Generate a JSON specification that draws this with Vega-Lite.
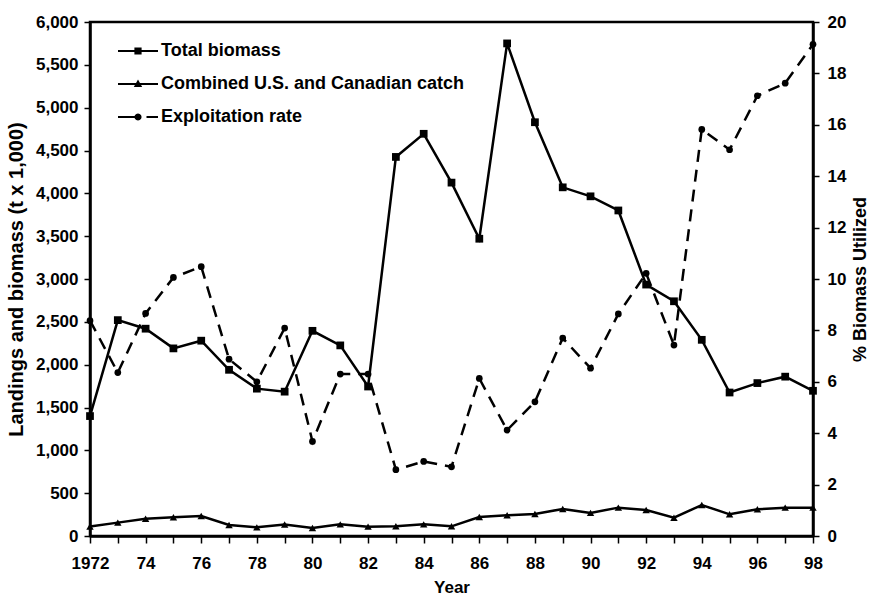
{
  "$schema": "https://vega.github.io/schema/vega-lite/v6.json",
  "width": 723,
  "height": 514,
  "autosize": {"type": "none"},
  "padding": {"left": 90, "top": 22, "right": 58, "bottom": 61},
  "background": "white",
  "config": {
    "view": {"stroke": "black", "strokeWidth": 2.5},
    "font": "Liberation Sans",
    "axis": {
      "labelFont": "Liberation Sans", "labelFontWeight": "bold", "labelFontSize": 17, "labelColor": "black",
      "titleFont": "Liberation Sans", "titleFontWeight": "bold", "titleFontSize": 17, "titleColor": "black",
      "domainColor": "black", "domainWidth": 2.5, "tickColor": "black", "tickWidth": 1.5, "grid": false
    }
  },
  "data": {
    "values": [
      {"year": 1972, "biomass": 1400, "catch": 110, "rate": 8.38},
      {"year": 1973, "biomass": 2520, "catch": 156, "rate": 6.36},
      {"year": 1974, "biomass": 2420, "catch": 202, "rate": 8.66},
      {"year": 1975, "biomass": 2190, "catch": 218, "rate": 10.06},
      {"year": 1976, "biomass": 2280, "catch": 234, "rate": 10.48},
      {"year": 1977, "biomass": 1940, "catch": 129, "rate": 6.88},
      {"year": 1978, "biomass": 1720, "catch": 101, "rate": 6.0},
      {"year": 1979, "biomass": 1685, "catch": 135, "rate": 8.09},
      {"year": 1980, "biomass": 2395, "catch": 94, "rate": 3.68},
      {"year": 1981, "biomass": 2225, "catch": 136, "rate": 6.3},
      {"year": 1982, "biomass": 1745, "catch": 109, "rate": 6.3},
      {"year": 1983, "biomass": 4425, "catch": 113, "rate": 2.58},
      {"year": 1984, "biomass": 4695, "catch": 136, "rate": 2.9},
      {"year": 1985, "biomass": 4125, "catch": 113, "rate": 2.69},
      {"year": 1986, "biomass": 3470, "catch": 222, "rate": 6.13},
      {"year": 1987, "biomass": 5750, "catch": 242, "rate": 4.12},
      {"year": 1988, "biomass": 4830, "catch": 257, "rate": 5.22},
      {"year": 1989, "biomass": 4070, "catch": 316, "rate": 7.7},
      {"year": 1990, "biomass": 3965, "catch": 270, "rate": 6.53},
      {"year": 1991, "biomass": 3800, "catch": 331, "rate": 8.64},
      {"year": 1992, "biomass": 2935, "catch": 304, "rate": 10.22},
      {"year": 1993, "biomass": 2740, "catch": 214, "rate": 7.43},
      {"year": 1994, "biomass": 2290, "catch": 362, "rate": 15.82},
      {"year": 1995, "biomass": 1675, "catch": 253, "rate": 15.03},
      {"year": 1996, "biomass": 1785, "catch": 312, "rate": 17.13},
      {"year": 1997, "biomass": 1860, "catch": 331, "rate": 17.62},
      {"year": 1998, "biomass": 1695, "catch": 331, "rate": 19.13}
    ]
  },
  "encoding": {
    "x": {
      "field": "year", "type": "quantitative",
      "scale": {"domain": [1972, 1998], "nice": false, "zero": false},
      "axis": {
        "title": "Year",
        "values": [1972,1973,1974,1975,1976,1977,1978,1979,1980,1981,1982,1983,1984,1985,1986,1987,1988,1989,1990,1991,1992,1993,1994,1995,1996,1997,1998],
        "labelExpr": "datum.value % 2 == 0 ? (datum.value == 1972 ? '1972' : substring(toString(datum.value), 2, 4)) : ''",
        "tickSize": 7, "labelPadding": 12, "titlePadding": 8, "labelFlush": false, "labelOverlap": false
      }
    }
  },
  "layer": [
    {
      "encoding": {
        "y": {
          "field": "biomass", "type": "quantitative",
          "scale": {"domain": [0, 6000], "nice": false},
          "axis": {
            "title": "Landings and biomass (t x 1,000)", "titleFontSize": 20,
            "values": [0,500,1000,1500,2000,2500,3000,3500,4000,4500,5000,5500,6000],
            "labelExpr": "format(datum.value, ',.0f')", "tickSize": 6, "labelPadding": 6, "titlePadding": 9
          }
        }
      },
      "layer": [
        {"mark": {"type": "line", "color": "black", "strokeWidth": 2.5}, "encoding": {}},
        {"mark": {"type": "point", "shape": "square", "filled": true, "color": "black", "opacity": 1, "size": 60}, "encoding": {}},
        {"mark": {"type": "line", "color": "black", "strokeWidth": 2.5}, "encoding": {"y": {"field": "catch", "type": "quantitative"}}},
        {"mark": {"type": "point", "shape": "triangle-up", "filled": true, "color": "black", "opacity": 1, "size": 55}, "encoding": {"y": {"field": "catch", "type": "quantitative"}}},
        {
          "transform": [{"filter": "datum.year < 0"}],
          "mark": {"type": "point", "filled": true, "color": "black", "opacity": 1},
          "encoding": {
            "shape": {
              "datum": "Total biomass",
              "scale": {
                "domain": ["Total biomass", "Combined U.S. and Canadian catch", "Exploitation rate"],
                "range": [
                  "M-2,-0.1H2V0.1H-2ZM-0.36,-0.36H0.36V0.36H-0.36Z",
                  "M-2,-0.1H2V0.1H-2ZM0,-0.45L0.42,0.3H-0.42Z",
                  "M-2,-0.1H0.3V0.1H-2ZM0.85,-0.1H2V0.1H0.85ZM0.36,0L0.312,0.18L0.18,0.312L0,0.36L-0.18,0.312L-0.312,0.18L-0.36,0L-0.312,-0.18L-0.18,-0.312L0,-0.36L0.18,-0.312L0.312,-0.18Z"
                ]
              },
              "legend": {
                "title": null, "orient": "none", "legendX": 27, "legendY": 18, "padding": 0,
                "symbolSize": 400, "symbolFillColor": "black", "symbolOpacity": 1,
                "symbolOffset": 10, "labelOffset": 12, "rowPadding": 13, "labelLimit": 500,
                "labelFont": "Liberation Sans", "labelFontWeight": "bold", "labelFontSize": 18, "labelColor": "black"
              }
            }
          }
        }
      ]
    },
    {
      "encoding": {
        "y": {
          "field": "rate", "type": "quantitative",
          "scale": {"domain": [0, 20], "nice": false},
          "axis": {
            "orient": "right", "title": "% Biomass Utilized", "titleAngle": 270, "titleFontSize": 18,
            "values": [0,2,4,6,8,10,12,14,16,18,20],
            "tickSize": 6, "labelPadding": 8, "titlePadding": 24
          }
        }
      },
      "layer": [
        {"mark": {"type": "line", "color": "black", "strokeWidth": 2.5, "strokeDash": [12, 8]}, "encoding": {}},
        {"mark": {"type": "point", "shape": "circle", "filled": true, "color": "black", "opacity": 1, "size": 45}, "encoding": {}}
      ]
    }
  ],
  "resolve": {"scale": {"y": "independent"}}
}
